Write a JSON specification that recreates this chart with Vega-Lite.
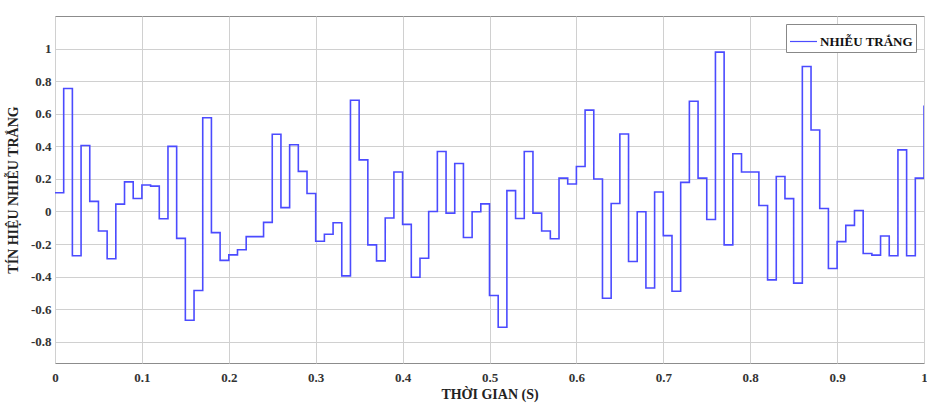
{
  "$schema": "https://vega.github.io/schema/vega-lite/v6.json",
  "autosize": {"type": "none"},
  "width": 869,
  "height": 347,
  "padding": {"left": 55, "top": 16, "right": 3, "bottom": 42},
  "background": "white",
  "config": {
    "font": "Liberation Serif",
    "view": {"stroke": "#8c8c8c", "strokeWidth": 1}
  },
  "data": {
    "values": [
      {"t": 0.00, "v": 0.115, "s": "NHIỄU TRẮNG"},
      {"t": 0.01, "v": 0.755, "s": "NHIỄU TRẮNG"},
      {"t": 0.02, "v": -0.272, "s": "NHIỄU TRẮNG"},
      {"t": 0.03, "v": 0.405, "s": "NHIỄU TRẮNG"},
      {"t": 0.04, "v": 0.062, "s": "NHIỄU TRẮNG"},
      {"t": 0.05, "v": -0.12, "s": "NHIỄU TRẮNG"},
      {"t": 0.06, "v": -0.29, "s": "NHIỄU TRẮNG"},
      {"t": 0.07, "v": 0.045, "s": "NHIỄU TRẮNG"},
      {"t": 0.08, "v": 0.182, "s": "NHIỄU TRẮNG"},
      {"t": 0.09, "v": 0.08, "s": "NHIỄU TRẮNG"},
      {"t": 0.10, "v": 0.163, "s": "NHIỄU TRẮNG"},
      {"t": 0.11, "v": 0.156, "s": "NHIỄU TRẮNG"},
      {"t": 0.12, "v": -0.045, "s": "NHIỄU TRẮNG"},
      {"t": 0.13, "v": 0.40, "s": "NHIỄU TRẮNG"},
      {"t": 0.14, "v": -0.165, "s": "NHIỄU TRẮNG"},
      {"t": 0.15, "v": -0.668, "s": "NHIỄU TRẮNG"},
      {"t": 0.16, "v": -0.485, "s": "NHIỄU TRẮNG"},
      {"t": 0.17, "v": 0.575, "s": "NHIỄU TRẮNG"},
      {"t": 0.18, "v": -0.13, "s": "NHIỄU TRẮNG"},
      {"t": 0.19, "v": -0.30, "s": "NHIỄU TRẮNG"},
      {"t": 0.20, "v": -0.266, "s": "NHIỄU TRẮNG"},
      {"t": 0.21, "v": -0.235, "s": "NHIỄU TRẮNG"},
      {"t": 0.22, "v": -0.154, "s": "NHIỄU TRẮNG"},
      {"t": 0.23, "v": -0.154, "s": "NHIỄU TRẮNG"},
      {"t": 0.24, "v": -0.067, "s": "NHIỄU TRẮNG"},
      {"t": 0.25, "v": 0.474, "s": "NHIỄU TRẮNG"},
      {"t": 0.26, "v": 0.024, "s": "NHIỄU TRẮNG"},
      {"t": 0.27, "v": 0.41, "s": "NHIỄU TRẮNG"},
      {"t": 0.28, "v": 0.246, "s": "NHIỄU TRẮNG"},
      {"t": 0.29, "v": 0.11, "s": "NHIỄU TRẮNG"},
      {"t": 0.30, "v": -0.183, "s": "NHIỄU TRẮNG"},
      {"t": 0.31, "v": -0.14, "s": "NHIỄU TRẮNG"},
      {"t": 0.32, "v": -0.069, "s": "NHIỄU TRẮNG"},
      {"t": 0.33, "v": -0.395, "s": "NHIỄU TRẮNG"},
      {"t": 0.34, "v": 0.683, "s": "NHIỄU TRẮNG"},
      {"t": 0.35, "v": 0.317, "s": "NHIỄU TRẮNG"},
      {"t": 0.36, "v": -0.205, "s": "NHIỄU TRẮNG"},
      {"t": 0.37, "v": -0.303, "s": "NHIỄU TRẮNG"},
      {"t": 0.38, "v": -0.04, "s": "NHIỄU TRẮNG"},
      {"t": 0.39, "v": 0.242, "s": "NHIỄU TRẮNG"},
      {"t": 0.40, "v": -0.079, "s": "NHIỄU TRẮNG"},
      {"t": 0.41, "v": -0.404, "s": "NHIỄU TRẮNG"},
      {"t": 0.42, "v": -0.287, "s": "NHIỄU TRẮNG"},
      {"t": 0.43, "v": 0.0, "s": "NHIỄU TRẮNG"},
      {"t": 0.44, "v": 0.368, "s": "NHIỄU TRẮNG"},
      {"t": 0.45, "v": -0.01, "s": "NHIỄU TRẮNG"},
      {"t": 0.46, "v": 0.295, "s": "NHIỄU TRẮNG"},
      {"t": 0.47, "v": -0.16, "s": "NHIỄU TRẮNG"},
      {"t": 0.48, "v": -0.002, "s": "NHIỄU TRẮNG"},
      {"t": 0.49, "v": 0.047, "s": "NHIỄU TRẮNG"},
      {"t": 0.50, "v": -0.516, "s": "NHIỄU TRẮNG"},
      {"t": 0.51, "v": -0.711, "s": "NHIỄU TRẮNG"},
      {"t": 0.52, "v": 0.128, "s": "NHIỄU TRẮNG"},
      {"t": 0.53, "v": -0.043, "s": "NHIỄU TRẮNG"},
      {"t": 0.54, "v": 0.368, "s": "NHIỄU TRẮNG"},
      {"t": 0.55, "v": -0.01, "s": "NHIỄU TRẮNG"},
      {"t": 0.56, "v": -0.12, "s": "NHIỄU TRẮNG"},
      {"t": 0.57, "v": -0.167, "s": "NHIỄU TRẮNG"},
      {"t": 0.58, "v": 0.205, "s": "NHIỄU TRẮNG"},
      {"t": 0.59, "v": 0.169, "s": "NHIỄU TRẮNG"},
      {"t": 0.60, "v": 0.276, "s": "NHIỄU TRẮNG"},
      {"t": 0.61, "v": 0.622, "s": "NHIỄU TRẮNG"},
      {"t": 0.62, "v": 0.199, "s": "NHIỄU TRẮNG"},
      {"t": 0.63, "v": -0.533, "s": "NHIỄU TRẮNG"},
      {"t": 0.64, "v": 0.049, "s": "NHIỄU TRẮNG"},
      {"t": 0.65, "v": 0.476, "s": "NHIỄU TRẮNG"},
      {"t": 0.66, "v": -0.307, "s": "NHIỄU TRẮNG"},
      {"t": 0.67, "v": -0.002, "s": "NHIỄU TRẮNG"},
      {"t": 0.68, "v": -0.47, "s": "NHIỄU TRẮNG"},
      {"t": 0.69, "v": 0.12, "s": "NHIỄU TRẮNG"},
      {"t": 0.70, "v": -0.148, "s": "NHIỄU TRẮNG"},
      {"t": 0.71, "v": -0.49, "s": "NHIỄU TRẮNG"},
      {"t": 0.72, "v": 0.179, "s": "NHIỄU TRẮNG"},
      {"t": 0.73, "v": 0.677, "s": "NHIỄU TRẮNG"},
      {"t": 0.74, "v": 0.205, "s": "NHIỄU TRẮNG"},
      {"t": 0.75, "v": -0.049, "s": "NHIỄU TRẮNG"},
      {"t": 0.76, "v": 0.978, "s": "NHIỄU TRẮNG"},
      {"t": 0.77, "v": -0.205, "s": "NHIỄU TRẮNG"},
      {"t": 0.78, "v": 0.354, "s": "NHIỄU TRẮNG"},
      {"t": 0.79, "v": 0.242, "s": "NHIỄU TRẮNG"},
      {"t": 0.80, "v": 0.242, "s": "NHIỄU TRẮNG"},
      {"t": 0.81, "v": 0.037, "s": "NHIỄU TRẮNG"},
      {"t": 0.82, "v": -0.42, "s": "NHIỄU TRẮNG"},
      {"t": 0.83, "v": 0.215, "s": "NHIỄU TRẮNG"},
      {"t": 0.84, "v": 0.079, "s": "NHIỄU TRẮNG"},
      {"t": 0.85, "v": -0.44, "s": "NHIỄU TRẮNG"},
      {"t": 0.86, "v": 0.89, "s": "NHIỄU TRẮNG"},
      {"t": 0.87, "v": 0.5, "s": "NHIỄU TRẮNG"},
      {"t": 0.88, "v": 0.018, "s": "NHIỄU TRẮNG"},
      {"t": 0.89, "v": -0.35, "s": "NHIỄU TRẮNG"},
      {"t": 0.90, "v": -0.185, "s": "NHIỄU TRẮNG"},
      {"t": 0.91, "v": -0.085, "s": "NHIỄU TRẮNG"},
      {"t": 0.92, "v": 0.006, "s": "NHIỄU TRẮNG"},
      {"t": 0.93, "v": -0.258, "s": "NHIỄU TRẮNG"},
      {"t": 0.94, "v": -0.268, "s": "NHIỄU TRẮNG"},
      {"t": 0.95, "v": -0.15, "s": "NHIỄU TRẮNG"},
      {"t": 0.96, "v": -0.272, "s": "NHIỄU TRẮNG"},
      {"t": 0.97, "v": 0.378, "s": "NHIỄU TRẮNG"},
      {"t": 0.98, "v": -0.272, "s": "NHIỄU TRẮNG"},
      {"t": 0.99, "v": 0.205, "s": "NHIỄU TRẮNG"},
      {"t": 1.00, "v": 0.65, "s": "NHIỄU TRẮNG"}
    ]
  },
  "mark": {"type": "line", "interpolate": "step-after", "strokeWidth": 1.6, "clip": true},
  "encoding": {
    "x": {
      "field": "t",
      "type": "quantitative",
      "scale": {"domain": [0, 1], "nice": false, "zero": false},
      "axis": {
        "title": "THỜI GIAN (S)",
        "values": [0, 0.1, 0.2, 0.3, 0.4, 0.5, 0.6, 0.7, 0.8, 0.9, 1],
        "labelExpr": "'' + datum.value",
        "domain": false,
        "ticks": false,
        "grid": true,
        "gridColor": "#d0d0d0",
        "gridWidth": 1,
        "labelFont": "Liberation Serif",
        "labelFontWeight": "bold",
        "labelFontSize": 13,
        "labelColor": "#333333",
        "labelPadding": 8,
        "labelFlush": false,
        "titleFont": "Liberation Serif",
        "titleFontWeight": "bold",
        "titleFontSize": 14,
        "titleColor": "#222222",
        "titlePadding": 3
      }
    },
    "y": {
      "field": "v",
      "type": "quantitative",
      "scale": {"domain": [-0.93, 1.2], "nice": false, "zero": false},
      "axis": {
        "title": "TÍN HIỆU NHIỄU TRẮNG",
        "values": [-0.8, -0.6, -0.4, -0.2, 0, 0.2, 0.4, 0.6, 0.8, 1],
        "labelExpr": "'' + datum.value",
        "domain": false,
        "ticks": false,
        "grid": true,
        "gridColor": "#d0d0d0",
        "gridWidth": 1,
        "labelFont": "Liberation Serif",
        "labelFontWeight": "bold",
        "labelFontSize": 13,
        "labelColor": "#333333",
        "labelPadding": 4,
        "titleFont": "Liberation Serif",
        "titleFontWeight": "bold",
        "titleFontSize": 14,
        "titleColor": "#222222",
        "titlePadding": 10
      }
    },
    "color": {
      "field": "s",
      "type": "nominal",
      "scale": {"range": ["#4b4bff"]},
      "legend": {
        "title": null,
        "orient": "top-right",
        "offset": 8,
        "symbolType": "stroke",
        "symbolSize": 729,
        "symbolStrokeWidth": 1.2,
        "labelFont": "Liberation Serif",
        "labelFontWeight": "bold",
        "labelFontSize": 13,
        "labelOffset": 2,
        "labelColor": "#111111",
        "strokeColor": "#888888",
        "fillColor": "white",
        "padding": 3,
        "cornerRadius": 0
      }
    }
  }
}
